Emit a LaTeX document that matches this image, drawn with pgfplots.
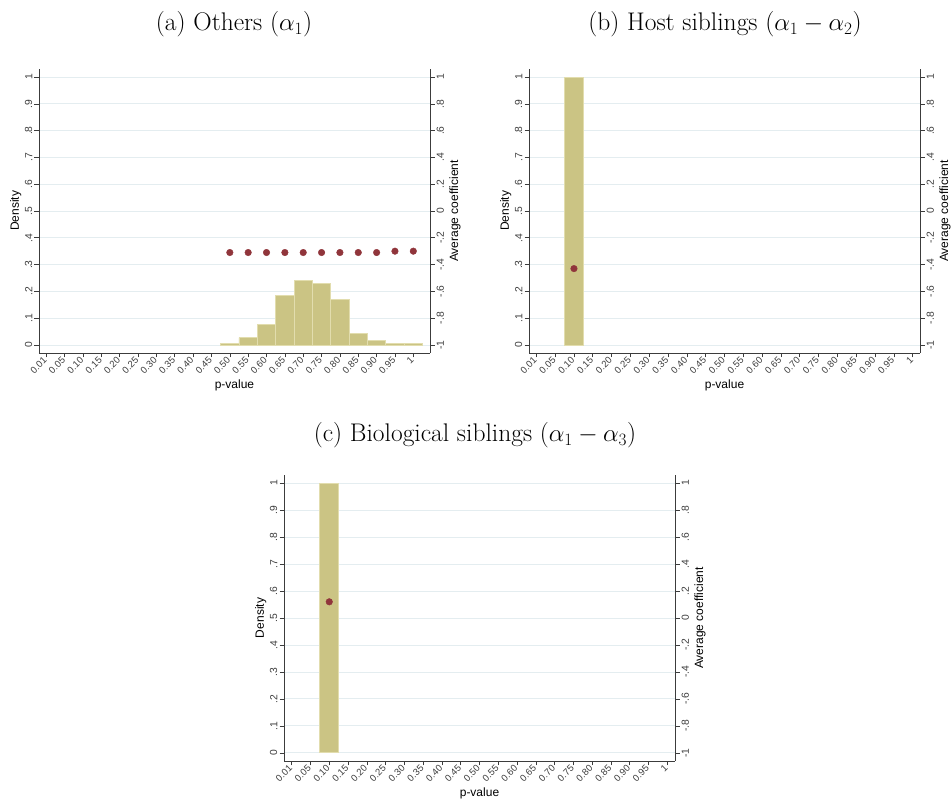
\documentclass[border=0pt]{standalone}
\usepackage{fontspec}
\setsansfont{Liberation Sans}
\usepackage{pgfplots}
\pgfplotsset{compat=1.18}
\definecolor{barfill}{RGB}{203,196,132}
\definecolor{baredge}{RGB}{226,221,174}
\definecolor{dotc}{RGB}{144,53,59}
\definecolor{gridc}{RGB}{228,237,240}
\definecolor{axc}{RGB}{60,60,60}
\newcommand{\tickfont}{\sffamily\fontsize{10.3}{12}\selectfont}
\newcommand{\xtickfont}{\sffamily\fontsize{9.5}{11}\selectfont}
\newcommand{\labfont}{\sffamily\fontsize{12}{14}\selectfont}
\newcommand{\titfont}{\fontsize{25.5}{30}\selectfont}

\pgfplotsset{
  common/.style={
    scale only axis, width=391pt, height=284pt,
    ymin=-0.03, ymax=1.03,
    xtick={0,...,20},
    tick align=outside, major tick length=4.5pt,
    tick style={axc, line width=0.6pt},
    axis line style={axc, line width=0.6pt, -},
    every outer x axis line/.append style={-},
    every outer y axis line/.append style={-},
    clip=false,
  },
  leftax/.style={
    common,
    axis x line*=bottom, axis y line*=left,
    xticklabels={0.01,0.05,0.10,0.15,0.20,0.25,0.30,0.35,0.40,0.45,0.50,0.55,0.60,0.65,0.70,0.75,0.80,0.85,0.90,0.95,1},
    xticklabel style={font=\xtickfont, text=axc, rotate=45, anchor=east, inner sep=1.5pt},
    ytick={0,0.1,0.2,0.3,0.4,0.5,0.6,0.7,0.8,0.9,1},
    yticklabels={0,.1,.2,.3,.4,.5,.6,.7,.8,.9,1},
    yticklabel style={font=\tickfont, text=axc, rotate=90, anchor=south, inner sep=2pt},
    ymajorgrids, grid style={gridc, line width=0.9pt},
    xlabel={p-value}, ylabel={Density},
    xlabel style={font=\labfont, yshift=0pt},
    ylabel style={font=\labfont, yshift=-2pt},
  },
  rightax/.style={
    common,
    ymin=-1.06, ymax=1.06,
    axis x line=none, axis y line*=right,
    ytick={-1,-0.8,-0.6,-0.4,-0.2,0,0.2,0.4,0.6,0.8,1},
    yticklabels={-1,-.8,-.6,-.4,-.2,0,.2,.4,.6,.8,1},
    yticklabel style={font=\tickfont, text=axc, rotate=90, anchor=north, inner sep=2pt},
    ylabel={Average coefficient},
    ylabel near ticks, yticklabel pos=right,
    ylabel style={font=\labfont},
  },
  bars/.style={ybar, bar width=1, bar shift=0, fill=barfill, draw=baredge, line width=0.9pt},
  dots/.style={only marks, mark=*, mark size=3.3pt, color=dotc},
}

\begin{document}
\begin{tikzpicture}
\useasboundingbox (0,0) rectangle (952pt,802pt);

% Titles
\node[anchor=base, font=\titfont] at (234pt,771pt) {(a) Others ($\alpha_1$)};
\node[anchor=base, font=\titfont] at (725pt,771pt) {(b) Host siblings ($\alpha_1-\alpha_2$)};
\node[anchor=base, font=\titfont] at (475pt,360pt) {(c) Biological siblings ($\alpha_1-\alpha_3$)};

% Panel (a)
\begin{axis}[leftax, at={(39pt,449pt)}, anchor=south west, xmin=-0.4, xmax=20.91]
\addplot[bars] coordinates {
(10,0.005) (11,0.027) (12,0.078) (13,0.183) (14,0.239) (15,0.229)
(16,0.169) (17,0.042) (18,0.015) (19,0.006) (20,0.004)};
\end{axis}
\begin{axis}[rightax, at={(39pt,449pt)}, anchor=south west, xmin=-0.4, xmax=20.91]
\addplot[dots] coordinates {
(10,-0.31) (11,-0.31) (12,-0.31) (13,-0.31) (14,-0.31) (15,-0.31)
(16,-0.31) (17,-0.31) (18,-0.31) (19,-0.30) (20,-0.30)};
\end{axis}

% Panel (b)
\begin{axis}[leftax, at={(529pt,449pt)}, anchor=south west, xmin=-0.39, xmax=20.39]
\addplot[bars] coordinates {(2,1)};
\end{axis}
\begin{axis}[rightax, at={(529pt,449pt)}, anchor=south west, xmin=-0.39, xmax=20.39]
\addplot[dots] coordinates {(2,-0.43)};
\end{axis}

% Panel (c)
\begin{axis}[leftax, at={(284pt,41pt)}, anchor=south west, height=286pt, xmin=-0.41, xmax=20.41]
\addplot[bars] coordinates {(2,1)};
\end{axis}
\begin{axis}[rightax, at={(284pt,41pt)}, anchor=south west, height=286pt, xmin=-0.41, xmax=20.41]
\addplot[dots] coordinates {(2,0.12)};
\end{axis}
\end{tikzpicture}
\end{document}
